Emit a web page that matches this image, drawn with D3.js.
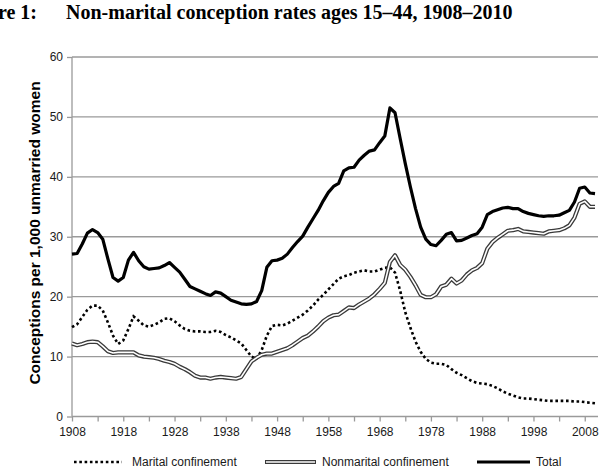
<!DOCTYPE html>
<html>
<head>
  <meta charset="utf-8">
  <script src="https://d3js.org/d3.v7.min.js"></script>
  <style type="text/css">
    body { margin: 0; background: #fff; }
    svg { display: block; }
  </style>
</head>
<body>
<script type="text/javascript">
  // one value per year, 1908 to 2010
  var years = d3.range(1908, 2011);

  var marital = [
    14.9, 15.4, 16.6, 17.8, 18.5, 18.5, 17.7, 15.7, 13.5, 12.1,
    12.7, 14.6, 16.7, 16.0, 15.2, 15.0, 15.3, 15.7, 16.3, 16.4,
    15.9, 15.2, 14.6, 14.3, 14.2, 14.2, 14.1, 14.1, 14.3, 14.1,
    13.6, 13.2, 12.7, 12.2, 11.1, 10.0, 9.6, 11.1, 13.5, 15.1,
    15.3, 15.2, 15.5, 16.0, 16.5, 17.0, 17.7, 18.5, 19.5, 20.3,
    21.2, 22.1, 23.0, 23.4, 23.6, 24.0, 24.2, 24.4, 24.2, 24.2,
    24.5, 24.8, 24.9, 24.0, 21.0, 17.4, 14.8, 12.5, 10.8, 9.6,
    9.0, 8.8, 8.8, 8.6, 7.9, 7.3, 6.9, 6.4, 5.9, 5.6,
    5.5, 5.4, 5.1, 4.7, 4.2, 3.8, 3.5, 3.2, 3.0, 3.0,
    2.9, 2.8, 2.7, 2.6, 2.6, 2.6, 2.6, 2.6, 2.5, 2.5,
    2.4, 2.3, 2.2
  ];

  var nonmarital = [
    12.2, 11.9, 12.1, 12.4, 12.5, 12.4, 11.7, 10.9, 10.6, 10.7,
    10.7, 10.7, 10.7, 10.2, 10.0, 9.9, 9.8, 9.6, 9.3, 9.1,
    8.8, 8.3, 7.9, 7.4, 6.8, 6.5, 6.5, 6.3, 6.5, 6.6,
    6.5, 6.4, 6.3, 6.6, 7.9, 9.2, 9.8, 10.3, 10.5, 10.5,
    10.8, 11.1, 11.4, 11.9, 12.5, 13.1, 13.5, 14.2, 15.0, 15.9,
    16.5, 16.9, 17.0, 17.6, 18.2, 18.1, 18.7, 19.2, 19.7, 20.4,
    21.3, 22.3, 25.8, 26.9, 25.3, 24.5, 23.3, 21.9, 20.3, 19.9,
    19.9, 20.4, 21.7, 22.0, 23.0, 22.2, 22.7, 23.7, 24.4, 24.8,
    25.6, 28.0, 29.1, 29.8, 30.4, 31.0, 31.1, 31.3, 30.9, 30.8,
    30.7, 30.6, 30.5, 30.9, 31.0, 31.1, 31.4, 31.9, 33.2, 35.5,
    35.9, 35.0, 35.0
  ];

  var total = [
    27.1, 27.2, 28.8, 30.6, 31.2, 30.7, 29.6, 26.3, 23.2, 22.6,
    23.2, 26.1, 27.4, 26.0, 25.0, 24.6, 24.7, 24.8, 25.2, 25.7,
    24.9, 24.1, 22.9, 21.7, 21.3, 20.9, 20.5, 20.2, 20.8, 20.6,
    20.0, 19.4, 19.1, 18.8, 18.7, 18.8, 19.2, 21.0, 24.9, 26.0,
    26.1, 26.4, 27.1, 28.2, 29.2, 30.1, 31.6, 33.0, 34.4, 36.0,
    37.4, 38.4, 38.9, 41.0, 41.5, 41.6, 42.8, 43.6, 44.3, 44.5,
    45.7, 46.8, 51.5, 50.7, 46.4, 42.2, 38.3, 34.7, 31.6, 29.6,
    28.7, 28.5, 29.4, 30.4, 30.7, 29.3, 29.4, 29.8, 30.2, 30.5,
    31.6, 33.7, 34.2, 34.5, 34.8, 34.9, 34.7, 34.7, 34.2, 33.9,
    33.7, 33.5, 33.4, 33.5, 33.5, 33.6, 34.0, 34.4, 35.8, 38.1,
    38.3, 37.3, 37.2
  ];

  var yTicks = [0, 10, 20, 30, 40, 50, 60];
  var xTickYears = d3.range(1908, 2011, 5);
  var xLabels = [1908, 1918, 1928, 1938, 1948, 1958, 1968, 1978, 1988, 1998, 2008];
  var seriesNames = ["Marital confinement", "Nonmarital confinement", "Total"];

  var width = 606,
      height = 472,
      plotLeft = 72,
      plotRight = 598,
      plotTop = 57,
      plotBottom = 416.5,
      axisGray = "#9a9a9a",
      sans = "'Liberation Sans', Arial, sans-serif";

  var svg = d3.select("body")
    .append("svg")
      .attr("width", width)
      .attr("height", height);

  var x = d3.scaleLinear().domain([1908, 2010]).range([plotLeft, 595]);
  var y = d3.scaleLinear().domain([0, 60]).range([plotBottom, plotTop]);

  //Title, the left part is cut off in the original
  svg.append("text")
    .attr("x", 37).attr("y", 19)
    .attr("text-anchor", "end")
    .style("font-family", "'Liberation Serif', 'Times New Roman', serif")
    .style("font-weight", "bold")
    .style("font-size", "20px")
    .text("Figure 1:");
  svg.append("text")
    .attr("x", 66).attr("y", 19)
    .style("font-family", "'Liberation Serif', 'Times New Roman', serif")
    .style("font-weight", "bold")
    .style("font-size", "20px")
    .text("Non-marital conception rates ages 15\u201344, 1908\u20132010");

  //Horizontal gridlines
  svg.append("g")
    .selectAll("line")
    .data(yTicks.filter(function (d) { return d > 0; }))
    .enter()
    .append("line")
      .attr("x1", plotLeft).attr("x2", plotRight)
      .attr("y1", function (d) { return y(d); })
      .attr("y2", function (d) { return y(d); })
      .style("stroke", axisGray)
      .style("stroke-width", 1.3);

  //Y axis
  var yAxis = svg.append("g")
    .attr("transform", "translate(" + plotLeft + ",0)")
    .call(d3.axisLeft(y).tickValues(yTicks).tickSize(5).tickPadding(4));
  yAxis.select(".domain").remove();
  yAxis.append("line")
    .attr("x1", 0).attr("x2", 0)
    .attr("y1", plotTop).attr("y2", plotBottom)
    .style("stroke", axisGray).style("stroke-width", 1.3);

  //X axis, ticks every 5 years, labels every 10
  var xAxis = svg.append("g")
    .attr("transform", "translate(0," + plotBottom + ")")
    .call(d3.axisBottom(x)
      .tickValues(xTickYears)
      .tickSize(5)
      .tickPadding(6)
      .tickFormat(function (d) { return xLabels.indexOf(d) >= 0 ? d : ""; }));
  xAxis.select(".domain").remove();
  xAxis.append("line")
    .attr("x1", plotLeft).attr("x2", plotRight)
    .attr("y1", 0).attr("y2", 0)
    .style("stroke", axisGray).style("stroke-width", 1.3);

  [yAxis, xAxis].forEach(function (g) {
    g.selectAll(".tick line").style("stroke", axisGray).style("stroke-width", 1.3);
    g.selectAll(".tick text")
      .style("font-family", sans)
      .style("font-size", "12px")
      .style("fill", "#1a1a1a");
  });

  //Y axis title
  svg.append("text")
    .attr("transform", "translate(40,233) rotate(-90)")
    .attr("text-anchor", "middle")
    .style("font-family", sans)
    .style("font-weight", "bold")
    .style("font-size", "15.5px")
    .text("Conceptions per 1,000 unmarried women");

  var line = d3.line()
    .x(function (d) { return x(d[0]); })
    .y(function (d) { return y(d[1]); });

  function pairs(values) {
    return years.map(function (yr, i) { return [yr, values[i]]; });
  }

  //Line styles: dotted, double, thick solid
  function drawMarital(sel) {
    sel.style("fill", "none").style("stroke", "#000")
      .style("stroke-width", 2.6).style("stroke-dasharray", "2.6,2.7");
  }

  var plot = svg.append("g");

  plot.append("path").datum(pairs(marital)).attr("d", line).call(drawMarital);
  plot.append("path").datum(pairs(nonmarital)).attr("d", line)
    .style("fill", "none").style("stroke", "#3a3a3a").style("stroke-width", 4.2)
    .style("stroke-linejoin", "round");
  plot.append("path").datum(pairs(nonmarital)).attr("d", line)
    .style("fill", "none").style("stroke", "#fff").style("stroke-width", 1.6)
    .style("stroke-linejoin", "round");
  plot.append("path").datum(pairs(total)).attr("d", line)
    .style("fill", "none").style("stroke", "#000").style("stroke-width", 3.2)
    .style("stroke-linejoin", "round");

  //Legend
  var legendY = 462;
  var legendPos = [
    { x1: 74, x2: 122, tx: 132 },
    { x1: 265, x2: 316, tx: 322 },
    { x1: 477, x2: 530, tx: 536 }
  ];
  var legend = svg.append("g");

  legend.append("line")
    .attr("x1", legendPos[0].x1).attr("x2", legendPos[0].x2)
    .attr("y1", legendY).attr("y2", legendY)
    .call(drawMarital);
  legend.append("line")
    .attr("x1", legendPos[1].x1).attr("x2", legendPos[1].x2)
    .attr("y1", legendY).attr("y2", legendY)
    .style("stroke", "#3a3a3a").style("stroke-width", 4.2);
  legend.append("line")
    .attr("x1", legendPos[1].x1 + 1).attr("x2", legendPos[1].x2 - 1)
    .attr("y1", legendY).attr("y2", legendY)
    .style("stroke", "#fff").style("stroke-width", 1.6);
  legend.append("line")
    .attr("x1", legendPos[2].x1).attr("x2", legendPos[2].x2)
    .attr("y1", legendY).attr("y2", legendY)
    .style("stroke", "#000").style("stroke-width", 3.2);

  legend.selectAll("text")
    .data(seriesNames)
    .enter()
    .append("text")
      .attr("x", function (d, i) { return legendPos[i].tx; })
      .attr("y", legendY)
      .attr("dy", "0.35em")
      .style("font-family", sans)
      .style("font-size", "12px")
      .style("fill", "#1a1a1a")
      .text(function (d) { return d; });
</script>
</body>
</html>
